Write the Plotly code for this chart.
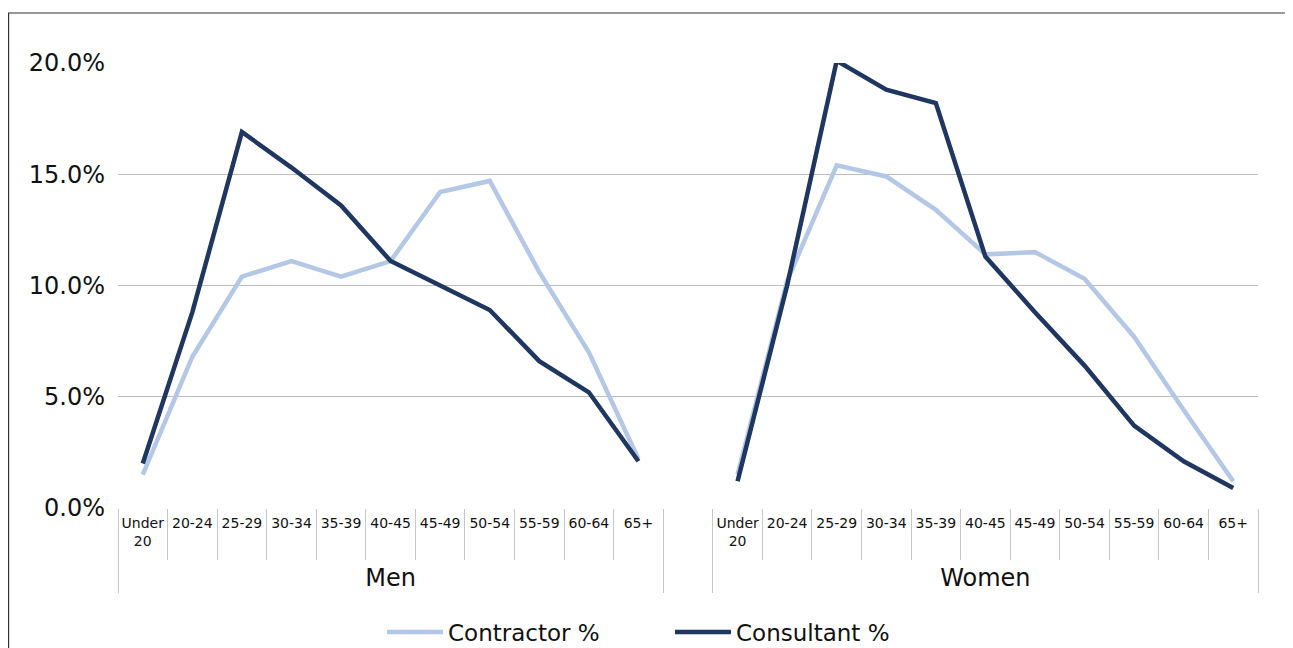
import plotly.graph_objects as go

groups = ["Men", "Women"]
age_bands = ["Under<br>20", "20-24", "25-29", "30-34", "35-39", "40-45",
             "45-49", "50-54", "55-59", "60-64", "65+"]

contractor_men = [1.5, 6.8, 10.4, 11.1, 10.4, 11.1, 14.2, 14.7, 10.6, 7.0, 2.2]
consultant_men = [2.0, 8.8, 16.9, 15.3, 13.6, 11.1, 10.0, 8.9, 6.6, 5.2, 2.1]
contractor_women = [1.5, 10.2, 15.4, 14.9, 13.4, 11.4, 11.5, 10.3, 7.7, 4.4, 1.2]
consultant_women = [1.2, 10.0, 20.1, 18.8, 18.2, 11.3, 8.8, 6.4, 3.7, 2.1, 0.9]

y_ticks = [0, 5, 10, 15, 20]

GROUP_FONT = 24
def glabel(g):
    return f'&nbsp;<br><span style="font-size:{GROUP_FONT}px">{g}</span>'

# invisible spacer label (blank gap category) that adds a little depth to the inner level
SPACER = '<span style="font-size:22px">&nbsp;</span><br><span style="font-size:22px">&nbsp;</span>'

# multicategory x with a blank spacer group between Men and Women
outer = [glabel(groups[0])] * len(age_bands) + [" "] + [glabel(groups[1])] * len(age_bands)
inner = age_bands + [SPACER] + age_bands

def series(men, women):
    return list(men) + [None] + list(women)

LIGHT = "#B4C7E7"
DARK = "#1E3660"
FONT = "DejaVu Sans"
TXT = "#111111"

# page offset of the plotly div (default body margin)
OFF = 8
W, H = 1293 - OFF, 648 - OFF
L, T, R, B = 118 - OFF, 63 - OFF, 1293 - 1258, 648 - 508

fig = go.Figure()
fig.add_trace(go.Scatter(x=[outer, inner], y=series(contractor_men, contractor_women),
                         mode="lines", name="Contractor %",
                         line=dict(color=LIGHT, width=4.5), connectgaps=False))
fig.add_trace(go.Scatter(x=[outer, inner], y=series(consultant_men, consultant_women),
                         mode="lines", name="Consultant %",
                         line=dict(color=DARK, width=4.5), connectgaps=False))

fig.update_layout(
    width=W, height=H,
    margin=dict(l=L, r=R, t=T, b=B, autoexpand=False),
    plot_bgcolor="white", paper_bgcolor="white",
    font=dict(family=FONT, color=TXT),
    showlegend=True,
    legend=dict(orientation="h", xref="container", yref="container",
                x=(382 - OFF) / W, xanchor="left",
                y=(648 - 632) / H, yanchor="middle",
                font=dict(size=23, family=FONT, color=TXT),
                itemwidth=56, entrywidth=217, entrywidthmode="pixels",
                tracegroupgap=0),
    xaxis=dict(
        type="multicategory",
        range=[-0.5, 22.5],
        tickangle=0,
        showgrid=False, zeroline=False, showline=False,
        ticks="outside", ticklen=51, tickcolor="#C8C8C8", tickwidth=1,
        showdividers=True, dividercolor="#C8C8C8", dividerwidth=1,
        ticklabelstandoff=5,
        tickfont=dict(size=14, family=FONT, color=TXT),
    ),
    yaxis=dict(
        range=[0, 20], tickvals=y_ticks,
        ticktext=[f"{v:.1f}%" for v in y_ticks],
        showgrid=True, gridcolor="#BDBDBD", gridwidth=1,
        zeroline=False, showline=False, ticks="",
        ticklabelstandoff=12,
        tickfont=dict(size=24, family=FONT, color=TXT),
    ),
    shapes=[dict(type="rect", xref="paper", yref="paper",
                 x0=(8.6 - 118) / 1140, x1=(1291 - 118) / 1140,
                 y0=(508 - 700) / 445, y1=(508 - 13) / 445,
                 line=dict(color="#333333", width=1.2), fillcolor="rgba(0,0,0,0)",
                 layer="below")],
)

fig.write_html("out.html")
